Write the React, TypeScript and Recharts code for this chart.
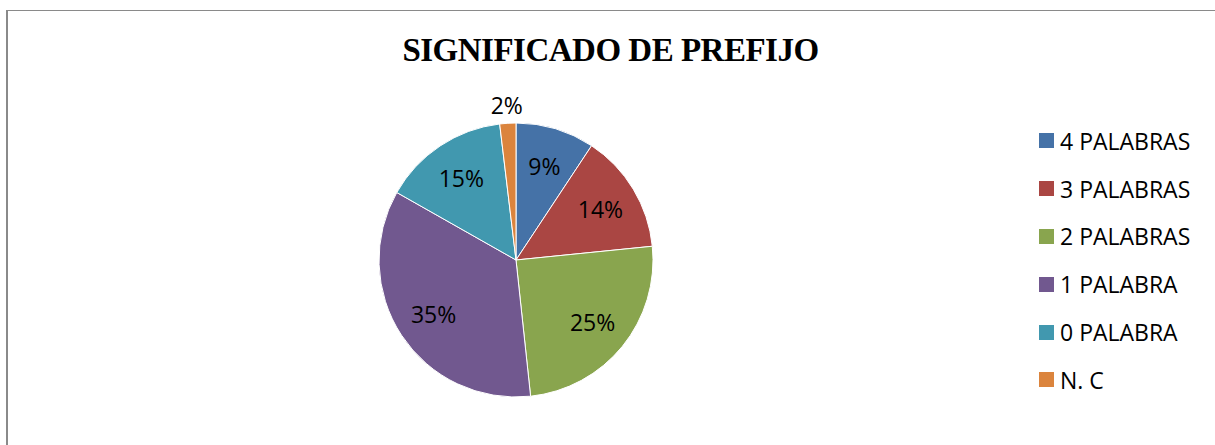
import { PieChart, Pie, Cell, Legend } from 'recharts';

const categories = ['4 PALABRAS', '3 PALABRAS', '2 PALABRAS', '1 PALABRA', '0 PALABRA', 'N. C'];
const shares = [9.3, 14.1, 24.9, 34.9, 14.9, 1.9];
const colors = ['#4572A7', '#AA4643', '#89A54E', '#71588F', '#4198AF', '#DB843D'];

const data = categories.map((name, i) => ({ name, value: shares[i] }));

const RAD = Math.PI / 180;
const labelFont = '"Open Sans", "Liberation Sans", sans-serif';

function renderLabel(props: any) {
  const { cx, cy, midAngle, outerRadius, percent } = props;
  // tiny slices get their label pushed outside the pie
  const r = percent < 0.05 ? outerRadius + 18 : outerRadius * 0.72;
  const x = cx + r * Math.cos(-midAngle * RAD);
  const y = cy + r * Math.sin(-midAngle * RAD);
  return (
    <text
      x={x}
      y={y}
      fill="#000"
      textAnchor="middle"
      dominantBaseline="central"
      fontFamily={labelFont}
      fontSize={23}
    >
      {`${Math.round(percent * 100)}%`}
    </text>
  );
}

function LegendList() {
  return (
    <div style={{ fontFamily: labelFont, fontSize: 23, color: '#000' }}>
      {data.map((d, i) => (
        <div key={d.name} style={{ display: 'flex', alignItems: 'center', height: 47.8 }}>
          <span style={{ width: 15, height: 15, background: colors[i], marginRight: 6, display: 'inline-block' }} />
          <span>{d.name}</span>
        </div>
      ))}
    </div>
  );
}

export default function App() {
  return (
    <div style={{ position: 'fixed', left: 0, top: 0, width: 1215, height: 445, background: '#fff', overflow: 'hidden' }}>
      <style>{'html, body { margin: 0; overflow: hidden; }'}</style>
      <div style={{ position: 'absolute', left: 6, top: 10, width: 1209, height: 1, background: '#8a8a8a' }} />
      <div style={{ position: 'absolute', left: 6, top: 10, width: 2, height: 435, background: '#8a8a8a' }} />
      <PieChart
        width={1215}
        height={445}
        margin={{ top: 0, right: 0, bottom: 0, left: 0 }}
        style={{ position: 'absolute', left: 0, top: 0 }}
      >
        <text
          x={610.5}
          y={61}
          textAnchor="middle"
          fontFamily='"Liberation Serif", "Times New Roman", serif'
          fontWeight="bold"
          fontSize={33}
          letterSpacing={-0.5}
          fill="#000"
        >
          SIGNIFICADO DE PREFIJO
        </text>
        <Pie
          data={data}
          dataKey="value"
          nameKey="name"
          cx={516}
          cy={260}
          outerRadius={137}
          startAngle={90}
          endAngle={-270}
          stroke="#fff"
          strokeWidth={1}
          label={renderLabel}
          labelLine={false}
          isAnimationActive={false}
        >
          {data.map((d, i) => (
            <Cell key={d.name} fill={colors[i]} />
          ))}
        </Pie>
        <Legend
          layout="vertical"
          content={<LegendList />}
          wrapperStyle={{ position: 'absolute', left: 1039, top: 117, width: 170 }}
        />
      </PieChart>
    </div>
  );
}
